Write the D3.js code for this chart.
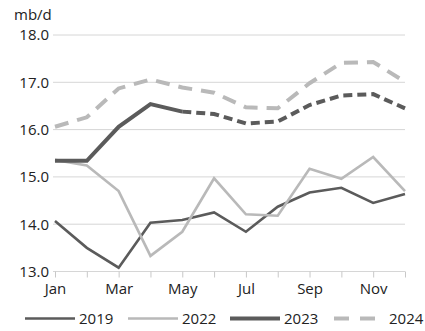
<!DOCTYPE html>
<html>
<head>
<meta charset="utf-8">
<script src="https://cdn.jsdelivr.net/npm/d3@7"></script>
<style>
  html, body { margin: 0; padding: 0; background: #fff; }
  svg { display: block; font-family: "Open Sans", "Noto Sans", sans-serif; }
</style>
</head>
<body>
<svg id="chart" width="425" height="331"></svg>
<script>
// Monthly volumes, million barrels per day
const months = ["Jan","Feb","Mar","Apr","May","Jun","Jul","Aug","Sep","Oct","Nov","Dec"];
const monthLabels = ["Jan","Mar","May","Jul","Sep","Nov"];
const yTicks = [13, 14, 15, 16, 17, 18];

const s2019 = [14.07, 13.50, 13.08, 14.03, 14.09, 14.25, 13.84, 14.37, 14.67, 14.77, 14.45, 14.64];
const s2022 = [15.36, 15.24, 14.70, 13.33, 13.84, 14.97, 14.21, 14.18, 15.17, 14.96, 15.42, 14.70];
const s2023 = [15.34, 15.34, 16.06, 16.54, 16.38, 16.33, 16.13, 16.17, 16.52, 16.72, 16.75, 16.45];
const s2024 = [16.06, 16.26, 16.87, 17.06, 16.89, 16.78, 16.47, 16.45, 16.98, 17.41, 17.43, 17.01];
// 2023 is drawn solid through May, dashed afterwards
const split2023 = 4;

const dark = "#5b5b5b", light = "#b9b9b9";

const svg = d3.select("#chart");
const x = d3.scalePoint().domain(months).range([55, 405]);
const y = d3.scaleLinear().domain([13, 18]).range([271.5, 35]);

// gridlines
svg.append("g").selectAll("line").data(yTicks).join("line")
  .attr("x1", 53).attr("x2", 405)
  .attr("y1", d => y(d)).attr("y2", d => y(d))
  .attr("stroke", "#d6d6d6").attr("stroke-width", 1);

// y axis labels
const yAxis = svg.append("g").attr("transform", "translate(49,0)")
  .call(d3.axisLeft(y).tickValues(yTicks).tickFormat(d3.format(".1f")).tickSize(0).tickPadding(0));
yAxis.select(".domain").remove();
yAxis.selectAll("text").attr("font-size", 15).attr("fill", "#222")
  .attr("font-family", "Open Sans, Noto Sans, sans-serif");

svg.append("text").attr("x", 14).attr("y", 20).attr("font-size", 15).attr("fill", "#222")
  .text("mb/d");

// x axis
const xAxis = svg.append("g").attr("transform", `translate(0,${y(13)})`)
  .call(d3.axisBottom(x).tickSize(6).tickPadding(6)
    .tickFormat(d => monthLabels.includes(d) ? d : ""));
xAxis.select(".domain").remove();
xAxis.selectAll("line").attr("stroke", "#c8c8c8");
xAxis.selectAll("text").attr("font-size", 15).attr("fill", "#222")
  .attr("font-family", "Open Sans, Noto Sans, sans-serif");

const line = d3.line().x((d, i) => x(months[i])).y(d => y(d));
const lineFrom = (start) => d3.line().x((d, i) => x(months[i + start])).y(d => y(d));

// 2019
svg.append("path").attr("d", line(s2019)).attr("fill", "none")
  .attr("stroke", dark).attr("stroke-width", 2.6);
// 2022
svg.append("path").attr("d", line(s2022)).attr("fill", "none")
  .attr("stroke", light).attr("stroke-width", 2.6);
// 2024
svg.append("path").attr("d", line(s2024)).attr("fill", "none")
  .attr("stroke", light).attr("stroke-width", 4).attr("stroke-dasharray", "14,9");
// 2023 solid part and dashed continuation
svg.append("path").attr("d", line(s2023.slice(0, split2023 + 1))).attr("fill", "none")
  .attr("stroke", dark).attr("stroke-width", 4).attr("stroke-linejoin", "miter");
svg.append("path").attr("d", lineFrom(split2023)(s2023.slice(split2023))).attr("fill", "none")
  .attr("stroke", dark).attr("stroke-width", 4).attr("stroke-dasharray", "9,5");

// legend
const legend = [
  { name: "2019", color: dark, width: 2.6, dash: null, x0: 25 },
  { name: "2022", color: light, width: 2.6, dash: null, x0: 128 },
  { name: "2023", color: dark, width: 4, dash: null, x0: 230 },
  { name: "2024", color: light, width: 4, dash: "15,11", x0: 334 }
];
const lg = svg.append("g");
legend.forEach(l => {
  lg.append("line").attr("x1", l.x0).attr("x2", l.x0 + (l.dash ? 41 : 50))
    .attr("y1", 318.5).attr("y2", 318.5)
    .attr("stroke", l.color).attr("stroke-width", l.width)
    .attr("stroke-dasharray", l.dash);
  lg.append("text").attr("x", l.x0 + (l.dash ? 55 : 54)).attr("y", 324)
    .attr("font-size", 15).attr("fill", "#222").text(l.name);
});
</script>
</body>
</html>
